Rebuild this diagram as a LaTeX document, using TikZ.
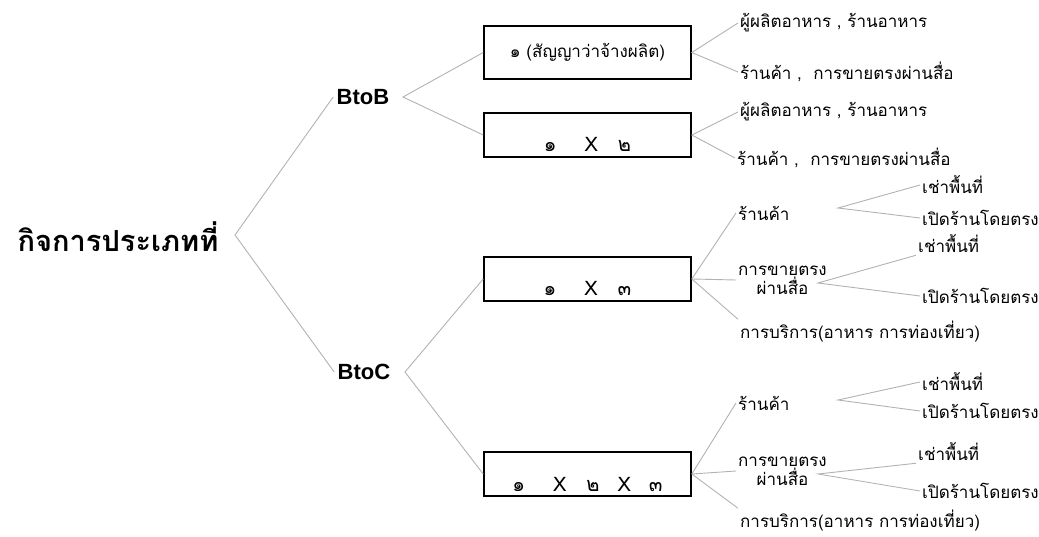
\documentclass[tikz,border=0pt]{standalone}
\usepackage{fontspec}
\newfontfamily\thaifont[Script=Thai]{Loma}
\newfontfamily\headfont{Liberation Sans}
\definecolor{linegray}{RGB}{178,178,178}
\newcommand{\lowered}[1]{\raisebox{-17pt}[0pt][0pt]{\fontsize{20}{22}\selectfont #1}}

\begin{document}
\begin{tikzpicture}[x=1pt,y=-1pt,
    txt/.style={font=\thaifont\fontsize{17}{19}\selectfont, inner sep=2pt},
    leaf/.style={txt, anchor=west},
    box/.style={txt, draw=black, line width=1.6pt, minimum width=207pt, minimum height=44pt},
    kindtitle/.style={font=\thaifont\bfseries\fontsize{29}{33}\selectfont},
    head/.style={font=\headfont\bfseries\fontsize{22}{26}\selectfont},
    branch/.style={draw=linegray, line width=0.9pt}]
    \useasboundingbox (0,0) rectangle (1039,537);

    \node[kindtitle] (kind) at (118,237) {กิจการประเภทที่};
    \coordinate (v0) at (235,235);
    \node[head] (btob) at (363,97)  {BtoB};
    \node[head] (btoc) at (364,372) {BtoC};
    \coordinate (vb) at (403,97);
    \coordinate (vc) at (405,372);

    \node[box, minimum height=53pt] (b1) at (587.5,52.5) {๑ (สัญญาว่าจ้างผลิต)};
    \node[box] (b2) at (587.5,135) {\lowered{๑\hspace{28pt}X\hspace{20pt}๒}};
    \node[box] (b3) at (587.5,279) {\lowered{๑\hspace{28pt}X\hspace{20pt}๓}};
    \node[box] (b4) at (587.5,474) {\lowered{๑\hspace{28pt}X\hspace{20pt}๒\hspace{18pt}X\hspace{18pt}๓}};

    % BtoB
    \node[leaf] (p1) at (738,23)  {ผู้ผลิตอาหาร , ร้านอาหาร};
    \node[leaf] (s1) at (738,72)  {ร้านค้า , \ การขายตรงผ่านสื่อ};
    \node[leaf] (p2) at (738,112) {ผู้ผลิตอาหาร , ร้านอาหาร};
    \node[leaf] (s2) at (735,158) {ร้านค้า , \ การขายตรงผ่านสื่อ};

    % BtoC, 1 x 3
    \node[leaf] (shop3) at (736,213) {ร้านค้า};
    \node[leaf, align=center] (media3) at (736,280) {การขายตรง\\ผ่านสื่อ};
    \node[leaf] (serv3) at (738,332) {การบริการ(อาหาร การท่องเที่ยว)};
    \coordinate (vs3) at (838,208);
    \node[leaf] (rent3a) at (920,185) {เช่าพื้นที่};
    \node[leaf] (own3a)  at (920,218) {เปิดร้านโดยตรง};
    \coordinate (vm3) at (818,283);
    \node[leaf] (rent3b) at (916,244) {เช่าพื้นที่};
    \node[leaf] (own3b)  at (920,296) {เปิดร้านโดยตรง};

    % BtoC, 1 x 2 x 3
    \node[leaf] (shop4) at (736,403) {ร้านค้า};
    \node[leaf, align=center] (media4) at (736,471) {การขายตรง\\ผ่านสื่อ};
    \node[leaf] (serv4) at (738,521) {การบริการ(อาหาร การท่องเที่ยว)};
    \coordinate (vs4) at (838,400);
    \node[leaf] (rent4a) at (920,382) {เช่าพื้นที่};
    \node[leaf] (own4a)  at (920,411) {เปิดร้านโดยตรง};
    \coordinate (vm4) at (818,474);
    \node[leaf] (rent4b) at (916,452) {เช่าพื้นที่};
    \node[leaf] (own4b)  at (920,491) {เปิดร้านโดยตรง};

    \draw[branch] (btob.west) -- (v0) -- (btoc.west);
    \draw[branch] (b1.west) -- (vb) -- (b2.west);
    \draw[branch] (b3.west) -- (vc) -- (b4.west);

    \draw[branch] (p1.west) -- (b1.east) -- (s1.west);
    \draw[branch] (p2.west) -- (b2.east) -- (s2.west);

    \draw[branch] (b3.east) -- (shop3.west);
    \draw[branch] (b3.east) -- (media3.west);
    \draw[branch] (b3.east) -- (serv3.north west);
    \draw[branch] (rent3a.west) -- (vs3) -- (own3a.west);
    \draw[branch] (rent3b.south west) -- (vm3) -- (own3b.west);

    \draw[branch] (b4.east) -- (shop4.west);
    \draw[branch] (b4.east) -- (media4.west);
    \draw[branch] (b4.east) -- (serv4.north west);
    \draw[branch] (rent4a.west) -- (vs4) -- (own4a.west);
    \draw[branch] (rent4b.south west) -- (vm4) -- (own4b.west);
\end{tikzpicture}
\end{document}
